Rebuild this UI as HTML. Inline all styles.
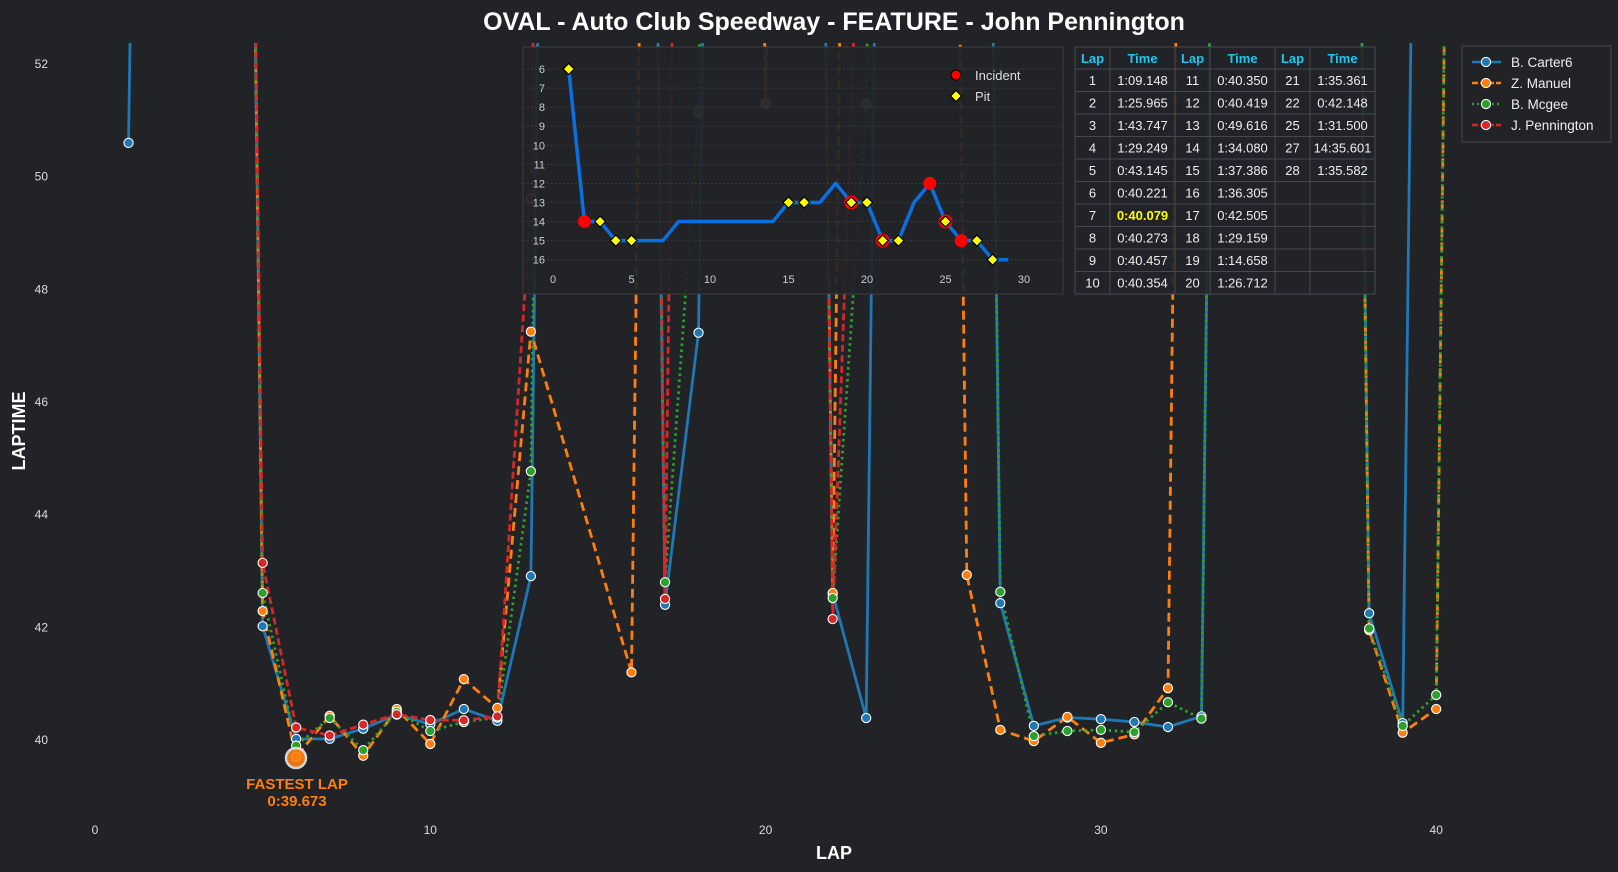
<!DOCTYPE html>
<html><head><meta charset="utf-8">
<style>
html,body{margin:0;padding:0;background:#212327;}
svg{display:block;font-family:"Liberation Sans",Arial,sans-serif;}
</style></head>
<body>
<svg id="s" width="1618" height="872" xmlns="http://www.w3.org/2000/svg">
<rect width="1618" height="872" fill="#212327"/>
<defs><clipPath id="cp"><rect x="60" y="43" width="1400" height="772"/></clipPath></defs>
<text x="834" y="30" text-anchor="middle" font-size="25" font-weight="bold" fill="#fff">OVAL - Auto Club Speedway - FEATURE - John Pennington</text>
<g id="yt" font-size="12" fill="#ddd" text-anchor="end"></g>
<g id="xt" font-size="12" fill="#ddd" text-anchor="middle"></g>
<text x="834" y="859" text-anchor="middle" font-size="18" font-weight="bold" fill="#fff">LAP</text>
<text transform="translate(25,431) rotate(-90)" text-anchor="middle" font-size="18" font-weight="bold" fill="#fff">LAPTIME</text>
<g id="main" clip-path="url(#cp)"></g>
<g id="fast">
<circle cx="296" cy="758" r="10" fill="#ff7f0e" stroke="#e8e8e8" stroke-width="2.5" opacity="0.9"/>
<text x="297" y="789" text-anchor="middle" font-size="15" font-weight="bold" fill="#ff7f0e">FASTEST LAP</text>
<text x="297" y="806" text-anchor="middle" font-size="15" font-weight="bold" fill="#ff7f0e">0:39.673</text>
</g>
<g id="inset"></g>
<g id="table"></g>
<g id="legend">
<rect x="1462" y="46" width="149" height="96" fill="#212327" stroke="#44474c" stroke-width="1"/>
</g>
</svg>
<script>
var NS="http://www.w3.org/2000/svg";
function el(p,t,a,txt){var e=document.createElementNS(NS,t);for(var k in a)e.setAttribute(k,a[k]);if(txt!==undefined)e.textContent=txt;p.appendChild(e);return e;}
function X(l){return 95+33.53*l;}
function Y(v){return 740-56.33*(v-40);}
var yt=document.getElementById('yt'),xt=document.getElementById('xt');
for(var v=40;v<=52;v+=2)el(yt,'text',{x:48,y:Y(v)+4},String(v));
for(var l=0;l<=40;l+=10)el(xt,'text',{x:X(l),y:834},String(l));
var B=90;
var series=[
{c:'#1f77b4',d:'',n:'B. Carter6',p:[[1,50.6],[2,B],[3,B],[4,B],[5,42.02],[6,40.02],[7,40.02],[8,40.2],[9,40.45],[10,40.28],[11,40.55],[12,40.34],[13,42.91],[14,B],[15,B],[16,B],[17,42.4],[18,47.23],[19,B],[20,B],[21,B],[22,42.6],[23,40.39],[24,B],[25,B],[26,B],[27,42.43],[28,40.25],[29,40.4],[30,40.37],[31,40.32],[32,40.23],[33,40.42],[34,B],[35,B],[36,B],[37,B],[38,42.25],[39,40.3],[40,B]]},
{c:'#ff7f0e',d:'9,5',n:'Z. Manuel',p:[[1,B],[2,B],[3,B],[4,B],[5,42.29],[6,39.7],[7,40.43],[8,39.72],[9,40.55],[10,39.93],[11,41.08],[12,40.57],[13,47.25],[16,41.2],[17,B],[18,B],[19,B],[20,51.3],[21,B],[22,42.61],[23,B],[24,B],[25,B],[26,42.93],[27,40.18],[28,39.98],[29,40.41],[30,39.95],[31,40.1],[32,40.92],[33,B],[34,B],[35,B],[36,B],[37,B],[38,41.95],[39,40.13],[40,40.55],[41,B]]},
{c:'#2ca02c',d:'2.5,3.5',n:'B. Mcgee',p:[[1,B],[2,B],[3,B],[4,B],[5,42.61],[6,39.9],[7,40.39],[8,39.82],[9,40.5],[10,40.16],[11,40.32],[12,40.4],[13,44.77],[14,B],[15,B],[16,B],[17,42.8],[18,51.15],[19,B],[20,B],[21,B],[22,42.52],[23,51.3],[24,B],[25,B],[26,B],[27,42.63],[28,40.07],[29,40.16],[30,40.18],[31,40.14],[32,40.67],[33,40.38],[34,B],[35,B],[36,B],[37,B],[38,41.98],[39,40.25],[40,40.8],[41,B]]},
{c:'#d62728',d:'7,3.5',n:'J. Pennington',p:[[1,69.1],[2,86],[3,103.7],[4,89.2],[5,43.145],[6,40.221],[7,40.079],[8,40.273],[9,40.457],[10,40.354],[11,40.35],[12,40.419],[13,49.616],[14,94.08],[15,97.39],[16,96.3],[17,42.505],[18,89.16],[19,74.66],[20,86.7],[21,95.36],[22,42.148],[25,91.5],[27,200],[28,95.58]]}
];
var m=document.getElementById('main');
series.forEach(function(s){
 var pts=s.p.map(function(q){return X(q[0]).toFixed(1)+','+Y(q[1]).toFixed(1);}).join(' ');
 var a={points:pts,fill:'none',stroke:s.c,'stroke-width':2.8,'stroke-linejoin':'round'};
 if(s.d)a['stroke-dasharray']=s.d;
 el(m,'polyline',a);
});
series.forEach(function(s){
 s.p.forEach(function(q){if(q[1]<53)el(m,'circle',{cx:X(q[0]),cy:Y(q[1]),r:4.6,fill:s.c,stroke:'#fff','stroke-width':1.1});});
});
var ins=document.getElementById('inset');
el(ins,'rect',{x:523,y:47,width:540,height:247,fill:'#212428','fill-opacity':0.93,stroke:'#3a3d42'});
function IX(l){return 553+15.7*l;}function IY(p){return 69+19.07*(p-6);}
for(var p=6;p<=16;p++){el(ins,'line',{x1:523,x2:1063,y1:IY(p),y2:IY(p),stroke:'#44474c','stroke-dasharray':'1.5,2.5','stroke-width':0.8});
 el(ins,'text',{x:545,y:IY(p)+4,'font-size':11,fill:'#ccc','text-anchor':'end'},String(p));}
for(var l=0;l<=30;l+=5)el(ins,'text',{x:IX(l),y:283,'font-size':11,fill:'#ccc','text-anchor':'middle'},String(l));
var pos=[[1,6],[2,14],[3,14],[4,15],[5,15],[6,15],[7,15],[8,14],[9,14],[10,14],[11,14],[12,14],[13,14],[14,14],[15,13],[16,13],[17,13],[18,12],[19,13],[20,13],[21,15],[22,15],[23,13],[24,12],[25,14],[26,15],[27,15],[28,16],[29,16]];
el(ins,'polyline',{points:pos.map(function(q){return IX(q[0])+','+IY(q[1]);}).join(' '),fill:'none',stroke:'#0a6fe0','stroke-width':3.5,'stroke-linejoin':'round'});
var pm={};pos.forEach(function(q){pm[q[0]]=q[1];});
[2,19,21,24,25,26].forEach(function(l){var ring=[19,21,25].indexOf(l)>=0;el(ins,'circle',{cx:IX(l),cy:IY(pm[l]),r:ring?7:6.5,fill:'#ff0000'});});
function dia(g,x,y,r){el(g,'polygon',{points:(x)+','+(y-r)+' '+(x+r)+','+y+' '+x+','+(y+r)+' '+(x-r)+','+y,fill:'#ffff00',stroke:'#000','stroke-width':1.2});}
[1,3,4,5,15,16,19,20,21,22,25,27,28].forEach(function(l){dia(ins,IX(l),IY(pm[l]),5.5);});
el(ins,'circle',{cx:956,cy:75,r:5,fill:'#ff0000',stroke:'#000','stroke-width':1});
el(ins,'text',{x:975,y:80,'font-size':13,fill:'#ddd'},'Incident');
dia(ins,956,96,5.5);
el(ins,'text',{x:975,y:101,'font-size':13,fill:'#ddd'},'Pit');
var tb=document.getElementById('table');
var cols=[1075,1110,1175,1210,1275,1310,1375];
el(tb,'rect',{x:1075,y:47,width:300,height:247,fill:'#222428','fill-opacity':0.92});
var rows=[47,69];for(var i=1;i<=10;i++)rows.push(69+22.5*i);
rows.forEach(function(y){el(tb,'line',{x1:1075,x2:1375,y1:y,y2:y,stroke:'#45484d'});});
cols.forEach(function(x){el(tb,'line',{x1:x,x2:x,y1:47,y2:294,stroke:'#45484d'});});
var hd=['Lap','Time','Lap','Time','Lap','Time'];
hd.forEach(function(h,i){el(tb,'text',{x:(cols[i]+cols[i+1])/2,y:63,'font-size':13,'font-weight':'bold',fill:'#1ec8f0','text-anchor':'middle'},h);});
var data=[['1','1:09.148','11','0:40.350','21','1:35.361'],['2','1:25.965','12','0:40.419','22','0:42.148'],['3','1:43.747','13','0:49.616','25','1:31.500'],['4','1:29.249','14','1:34.080','27','14:35.601'],['5','0:43.145','15','1:37.386','28','1:35.582'],['6','0:40.221','16','1:36.305','',''],['7','0:40.079','17','0:42.505','',''],['8','0:40.273','18','1:29.159','',''],['9','0:40.457','19','1:14.658','',''],['10','0:40.354','20','1:26.712','','']];
data.forEach(function(r,ri){r.forEach(function(t,ci){if(!t)return;var hl=(ri==6&&ci==1);
 el(tb,'text',{x:(cols[ci]+cols[ci+1])/2,y:69+22.5*ri+16,'font-size':13,fill:hl?'#ffff00':'#eee','font-weight':hl?'bold':'normal','text-anchor':'middle'},t);});});
var lg=document.getElementById('legend');
series.forEach(function(s,i){var y=62+21*i;var a={x1:1472,x2:1501,y1:y,y2:y,stroke:s.c,'stroke-width':2.6};if(s.d)a['stroke-dasharray']=(i==2?'2,3':'6,2');
 el(lg,'line',a);el(lg,'circle',{cx:1486,cy:y,r:4.6,fill:s.c,stroke:'#fff','stroke-width':1.1});
 el(lg,'text',{x:1511,y:y+5,'font-size':13.5,fill:'#eee'},s.n);});
</script>
</body></html>
